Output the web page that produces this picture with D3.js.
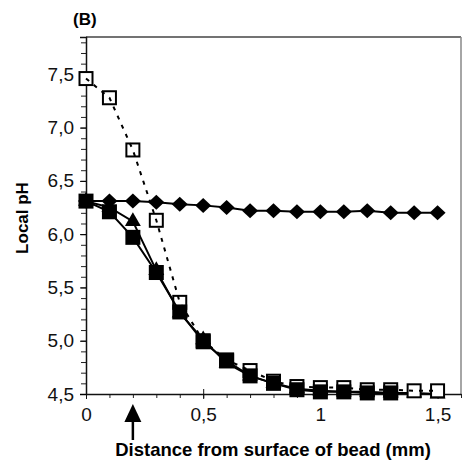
<!DOCTYPE html>
<html>
<head>
<meta charset="utf-8">
<script src="https://cdn.jsdelivr.net/npm/d3@7"></script>
<style>
  body { margin: 0; background: #fff; }
  svg { display: block; font-family: "Liberation Sans", Arial, sans-serif; }
</style>
</head>
<body>
<svg id="chart" width="462" height="471"></svg>
<script>
// ---- data ----
const distance = [0, 0.1, 0.2, 0.3, 0.4, 0.5, 0.6, 0.7, 0.8, 0.9, 1.0, 1.1, 1.2, 1.3, 1.4, 1.5];
const diamondPH = [6.31, 6.31, 6.31, 6.30, 6.28, 6.27, 6.25, 6.22, 6.22, 6.21, 6.21, 6.21, 6.22, 6.20, 6.20, 6.20];
const openSquarePH = [7.46, 7.28, 6.79, 6.13, 5.36, 5.00, 4.82, 4.72, 4.62, 4.57, 4.56, 4.56, 4.54, 4.54, 4.53, 4.53];
const filledSquarePH = [6.31, 6.21, 5.97, 5.64, 5.27, 4.99, 4.81, 4.67, 4.60, 4.54, 4.52, 4.52, 4.51, 4.51];
const trianglePH = [6.31, 6.25, 6.12, 5.66, 5.26, 5.01, 4.79, 4.67, 4.60, 4.55, 4.53, 4.52, 4.52, 4.51, 4.51, 4.50];
const yTicks = [4.5, 5.0, 5.5, 6.0, 6.5, 7.0, 7.5];
const xTicks = [0, 0.5, 1, 1.5];
const arrowAt = 0.2;
const panelLabel = "(B)";
const yTitle = "Local pH";
const xTitle = "Distance from surface of bead (mm)";

// ---- layout ----
const svg = d3.select("#chart");
const mLeft = 86, mRight = 461, mTop = 37, mBottom = 394;
const x = d3.scaleLinear().domain([0, 1.6]).range([mLeft, mRight]);
const y = d3.scaleLinear().domain([4.5, 7.85]).range([mBottom, mTop]);

// frame (top/right)
svg.append("line").attr("x1", mLeft).attr("x2", mRight).attr("y1", mTop).attr("y2", mTop)
  .attr("stroke", "#444").attr("stroke-width", 1.5);
svg.append("line").attr("x1", mRight).attr("x2", mRight).attr("y1", mTop).attr("y2", mBottom)
  .attr("stroke", "#888").attr("stroke-width", 1.5);

// y axis
const minorY = d3.range(45, 79).map(d => d / 10);
svg.append("g").attr("transform", `translate(${mLeft},0)`)
  .call(d3.axisLeft(y).tickValues(minorY).tickSize(5).tickFormat(""))
  .call(g => g.select(".domain").remove())
  .call(g => g.selectAll("line").attr("stroke", "#222"));
svg.append("g").attr("transform", `translate(${mLeft},0)`)
  .call(d3.axisLeft(y).tickValues(yTicks).tickSize(6).tickPadding(6)
    .tickFormat(d => d3.format(".1f")(d).replace(".", ",")))
  .call(g => g.select(".domain").attr("stroke", "#111").attr("stroke-width", 1.5))
  .call(g => g.selectAll("text").attr("font-size", 19).attr("fill", "#111")
     .attr("font-family", "Liberation Sans, Arial, sans-serif"));

// x axis
const minorX = d3.range(0, 17).map(d => d / 10);
svg.append("g").attr("transform", `translate(0,${mBottom})`)
  .call(d3.axisBottom(x).tickValues(minorX).tickSize(4).tickFormat(""))
  .call(g => g.select(".domain").remove())
  .call(g => g.selectAll("line").attr("stroke", "#222"));
svg.append("g").attr("transform", `translate(0,${mBottom})`)
  .call(d3.axisBottom(x).tickValues(xTicks).tickSizeInner(5).tickSizeOuter(0).tickPadding(9)
    .tickFormat(d => String(d).replace(".", ",")))
  .call(g => g.select(".domain").attr("stroke", "#111").attr("stroke-width", 1.5))
  .call(g => g.selectAll(".tick line").attr("y1", -5).attr("stroke", "#111"))
  .call(g => g.selectAll("text").attr("font-size", 19).attr("fill", "#111")
     .attr("font-family", "Liberation Sans, Arial, sans-serif"));

// ---- series ----
const line = d3.line().x(d => x(d[0])).y(d => y(d[1]));
const pts = vals => vals.map((v, i) => [distance[i], v]);

// triangles
const triData = pts(trianglePH);
svg.append("path").attr("d", line(triData)).attr("fill", "none").attr("stroke", "#000").attr("stroke-width", 2);
svg.append("g").selectAll("path").data(triData).join("path")
  .attr("transform", d => `translate(${x(d[0])},${y(d[1])})`)
  .attr("d", d3.symbol(d3.symbolTriangle, 110)).attr("fill", "#000");

// diamonds
const diaData = pts(diamondPH);
svg.append("path").attr("d", line(diaData)).attr("fill", "none").attr("stroke", "#000").attr("stroke-width", 2);
svg.append("g").selectAll("path").data(diaData).join("path")
  .attr("transform", d => `translate(${x(d[0])},${y(d[1])})`)
  .attr("d", "M0,-7.5L8,0L0,7.5L-8,0Z").attr("fill", "#000");

// open squares (dotted)
const openData = pts(openSquarePH);
svg.append("g").selectAll("rect").data(openData).join("rect")
  .attr("x", d => x(d[0]) - 6.5).attr("y", d => y(d[1]) - 6.5)
  .attr("width", 13).attr("height", 13)
  .attr("fill", "#fff").attr("stroke", "#000").attr("stroke-width", 2);
svg.append("path").attr("d", line(openData)).attr("fill", "none").attr("stroke", "#000")
  .attr("stroke-width", 2).attr("stroke-dasharray", "4,6");

// filled squares
const fillData = pts(filledSquarePH);
svg.append("path").attr("d", line(fillData)).attr("fill", "none").attr("stroke", "#000").attr("stroke-width", 2);
svg.append("g").selectAll("rect").data(fillData).join("rect")
  .attr("x", d => x(d[0]) - 7.5).attr("y", d => y(d[1]) - 7.5)
  .attr("width", 15).attr("height", 15).attr("fill", "#000");

// ---- arrow under axis ----
const ax = x(arrowAt);
svg.append("path")
  .attr("d", `M${ax},404 L${ax + 8.5},422 L${ax - 8.5},422 Z`).attr("fill", "#000");
svg.append("line").attr("x1", ax).attr("x2", ax).attr("y1", 420).attr("y2", 440)
  .attr("stroke", "#000").attr("stroke-width", 2.5);

// ---- texts ----
svg.append("text").attr("x", 73).attr("y", 25).attr("font-size", 17).attr("font-weight", "bold")
  .text(panelLabel);
svg.append("text").attr("transform", "translate(28,218) rotate(-90)").attr("text-anchor", "middle")
  .attr("font-size", 17).attr("font-weight", "bold").text(yTitle);
svg.append("text").attr("x", 273).attr("y", 456).attr("text-anchor", "middle")
  .attr("font-size", 18.5).attr("font-weight", "bold").text(xTitle);
</script>
</body>
</html>
